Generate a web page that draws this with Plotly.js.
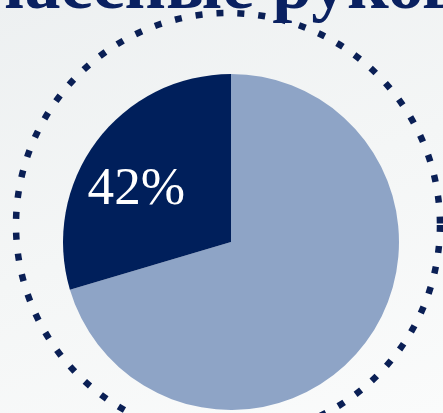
<!DOCTYPE html>
<html>
<head>
<meta charset="utf-8">
<script src="https://cdn.plot.ly/plotly-3.0.1.min.js"></script>
<style>
html, body { margin: 0; padding: 0; }
body { width: 443px; height: 413px; overflow: hidden;
  background: linear-gradient(160deg, #edf0f1 0%, #f4f6f6 50%, #fafbfb 100%); }
#chart { width: 443px; height: 413px; }
</style>
</head>
<body>
<div id="chart"></div>
<script>
// Data
const sliceNames = ['Остальные', 'Классные руководители'];
const sliceValues = [100, 42];
const sliceTexts = ['', '42%'];
const sliceColors = ['#8ea4c6', '#001f5b'];
const headingText = 'Классные руководители';

// trailing non-breaking spaces nudge the centred label toward the slice's left edge
const labelPad = '\u00a0\u00a0\u00a0';
const labelFont = { family: 'Liberation Serif', size: 60, color: '#ffffff' };

const trace = {
  type: 'pie',
  labels: sliceNames,
  values: sliceValues,
  text: sliceTexts.map(t => t ? t + labelPad : t),
  textinfo: 'text',
  textposition: 'inside',
  insidetextorientation: 'horizontal',
  sort: false,
  direction: 'clockwise',
  rotation: 0,
  marker: { colors: sliceColors, line: { width: 0 } },
  textfont: labelFont,
  insidetextfont: labelFont,
  hoverinfo: 'none',
  domain: { x: [0.1422, 0.9007], y: [0.0073, 0.8208] }
};

const layout = {
  width: 443, height: 413,
  margin: { l: 0, r: 0, t: 0, b: 0 },
  font: { family: 'Liberation Serif' },
  paper_bgcolor: 'rgba(0,0,0,0)',
  plot_bgcolor: 'rgba(0,0,0,0)',
  showlegend: false,
  hovermode: false,
  shapes: [{
    type: 'circle', xref: 'paper', yref: 'paper',
    x0: 0.0361, x1: 0.9932, y0: -0.0581, y1: 0.9685,
    line: { color: '#0a1f55', width: 6.5, dash: '7px,14px' },
    layer: 'below'
  }],
  annotations: [{
    text: '<b>' + headingText + '</b>',
    xref: 'paper', yref: 'paper',
    x: -0.158, y: 0.938, xanchor: 'left', yanchor: 'bottom',
    showarrow: false,
    font: { family: 'Liberation Serif', size: 72, color: '#0a2161' }
  }]
};

Plotly.newPlot('chart', [trace], layout, { displayModeBar: false, staticPlot: true });
</script>
</body>
</html>
